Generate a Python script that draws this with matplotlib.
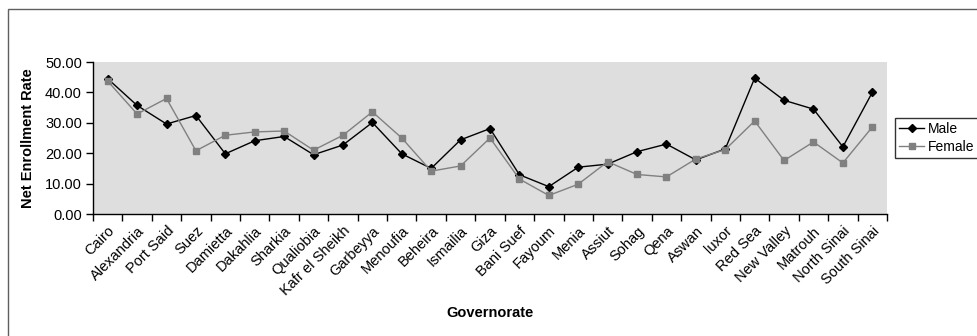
import numpy as np
import matplotlib.pyplot as plt
from matplotlib.lines import Line2D

plt.rcParams['font.family'] = ['Liberation Sans', 'DejaVu Sans']

governorates = ['Cairo', 'Alexandria', 'Port Said', 'Suez', 'Damietta', 'Dakahlia',
                'Sharkia', 'Qualiobia', 'Kafr el Sheikh', 'Garbeyya', 'Menoufia',
                'Beheira', 'Ismailia', 'Giza', 'Bani Suef', 'Fayoum', 'Menia', 'Assiut',
                'Sohag', 'Qena', 'Aswan', 'luxor', 'Red Sea', 'New Valley', 'Matrouh',
                'North Sinai', 'South Sinai']
male = [44.5, 35.7, 29.6, 32.4, 19.8, 24.1, 25.5, 19.5, 22.7, 30.1, 19.8, 15.0, 24.4,
        28.1, 12.9, 9.0, 15.4, 16.4, 20.5, 23.0, 17.8, 21.4, 44.7, 37.4, 34.5, 22.1, 40.0]
female = [43.7, 32.9, 38.0, 20.8, 25.9, 27.0, 27.3, 21.0, 25.9, 33.6, 25.0, 14.1, 15.8,
          25.0, 11.5, 6.1, 9.8, 17.2, 13.0, 12.2, 18.1, 21.2, 30.6, 17.6, 23.7, 16.8, 28.6]
y_ticks = [0, 10, 20, 30, 40, 50]

W, H = 978, 336
fig = plt.figure(figsize=(W / 100, H / 100), dpi=100)
ax = fig.add_axes([93 / W, 1 - 214 / H, (887 - 93) / W, (214 - 62) / H])
ax.set_facecolor('#dedede')

x = np.arange(len(governorates))
ax.plot(x, male, color='black', lw=1, marker='D', ms=4.5, label='Male')
ax.plot(x, female, color='#808080', lw=1, marker='s', ms=5, label='Female')

ax.set_xlim(-0.5, len(governorates) - 0.5)
ax.set_ylim(0, 50)
ax.set_yticks(y_ticks)
ax.set_yticklabels(['%.2f' % v for v in y_ticks], fontsize=10.5)

# tick marks between categories, labels at category centres
ax.set_xticks(np.arange(len(governorates) + 1) - 0.5)
ax.set_xticklabels([])
ax.set_xticks(x, minor=True)
ax.set_xticklabels(governorates, minor=True, rotation=45, ha='right',
                   rotation_mode='anchor', fontsize=10.5)
ax.tick_params(axis='x', which='minor', length=0, pad=7)
ax.tick_params(axis='both', which='major', length=5, width=1, color='black', direction='out')
ax.tick_params(axis='y', pad=3)

for side in ['top', 'right']:
    ax.spines[side].set_visible(False)
for side in ['left', 'bottom']:
    ax.spines[side].set_linewidth(1)

ax.set_ylabel('Net Enrollment Rate', fontsize=10.5, fontweight='bold', labelpad=7)
fig.text(0.5 * (93 + 887) / W, 1 - 313 / H, 'Governorate', ha='center', va='center',
         fontsize=10.5, fontweight='bold')

handles = [Line2D([], [], color='black', lw=1, marker='D', ms=4),
           Line2D([], [], color='#808080', lw=1, marker='s', ms=4)]
leg = fig.legend(handles, ['Male', 'Female'], loc='upper left',
                 bbox_to_anchor=(895 / W, 1 - 118 / H), fontsize=10, frameon=True,
                 fancybox=False, edgecolor='black', borderpad=0.3, handlelength=1.8,
                 handletextpad=0.3, labelspacing=0.25, borderaxespad=0)
leg.get_frame().set_linewidth(1)

# outer chart frame
fig.add_artist(plt.Rectangle((8 / W, -0.1), 1.2, 1 - 9 / H + 0.1, transform=fig.transFigure,
                             fill=False, edgecolor='#606060', lw=1))

fig.savefig('out.png', dpi=100)
